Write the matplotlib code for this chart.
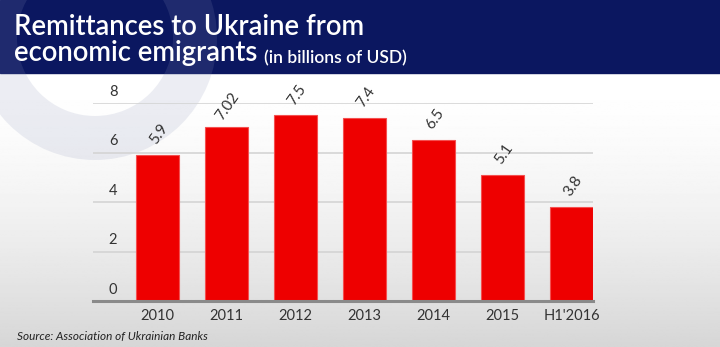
import numpy as np
import matplotlib.pyplot as plt
from matplotlib.patches import Rectangle, Wedge

years = ["2010", "2011", "2012", "2013", "2014", "2015", "H1'2016"]
remittances = [5.9, 7.02, 7.5, 7.4, 6.5, 5.1, 3.8]
value_labels = ["5.9", "7.02", "7.5", "7.4", "6.5", "5.1", "3.8"]
y_ticks = [0, 2, 4, 6, 8]

W, H = 720, 347
NAVY = "#0b1760"
RED = "#ee0000"
TEXT = "#333333"

plt.rcParams["font.family"] = ["Lato", "DejaVu Sans"]

fig = plt.figure(figsize=(W / 100, H / 100), dpi=100)

# background layer in pixel coordinates
bg = fig.add_axes([0, 0, 1, 1])
bg.set_xlim(0, W)
bg.set_ylim(H, 0)
bg.axis("off")

t = np.linspace(0, 1, 200) ** 1.6
grad = 1.0 - 0.16 * t
bg.imshow(np.tile(grad[:, None], (1, 2)), cmap="gray", vmin=0, vmax=1,
          extent=(0, W, H, 73), aspect="auto", zorder=0)

bg.add_patch(Rectangle((0, 0), W, 73, color=NAVY, zorder=1))
bg.add_patch(Wedge((95, 38), 122, 0, 360, width=44,
                   color="#8a93b8", alpha=0.16, zorder=2, lw=0))

bg.text(14, 35, "Remittances to Ukraine from", color="white",
        fontsize=19.8, fontweight="semibold", zorder=3)
line2 = bg.text(14, 61, "economic emigrants", color="white",
                fontsize=19.8, fontweight="semibold", zorder=3)
bg.annotate("(in billions of USD)", xy=(1, 0), xycoords=line2,
            xytext=(5, 0), textcoords="offset points", va="bottom",
            color="white", fontsize=12.5, fontweight="semibold", zorder=3)
bg.text(17, 340, "Source: Association of Ukrainian Banks", color="#222222",
        fontsize=8.5, style="italic", zorder=3)

# chart
ax = fig.add_axes([93 / W, (H - 301) / H, 500 / W, 198 / H])
ax.patch.set_alpha(0)
x = np.arange(len(years))
ax.set_xlim(-0.933, 6.31)
ax.set_ylim(0, 8)
for s in ax.spines.values():
    s.set_visible(False)
ax.set_xticks([])
ax.set_yticks([])

for v in y_ticks[1:]:
    ax.axhline(v, color="#d4d4d4", lw=1.2, zorder=1)
ax.axhline(0, color="#8a8a8a", lw=2.2, zorder=3, clip_on=False)

for v in y_ticks:
    ax.text(-0.643, v + 0.45, str(v), ha="center", va="center",
            fontsize=10.5, color=TEXT)

ax.bar(x, remittances, width=0.62, color=RED, edgecolor="#f45050",
       lw=0.8, zorder=2)

for xi, v, lab in zip(x, remittances, value_labels):
    ax.annotate(lab, (xi, v), xytext=(1, 15), textcoords="offset points",
                ha="center", va="center", rotation=55, fontsize=11,
                color=TEXT, annotation_clip=False)

for xi, name in zip(x, years):
    ax.text(xi, -0.62, name, ha="center", va="center", fontsize=10.5,
            color=TEXT, clip_on=False)

fig.savefig("out.png", dpi=100)
